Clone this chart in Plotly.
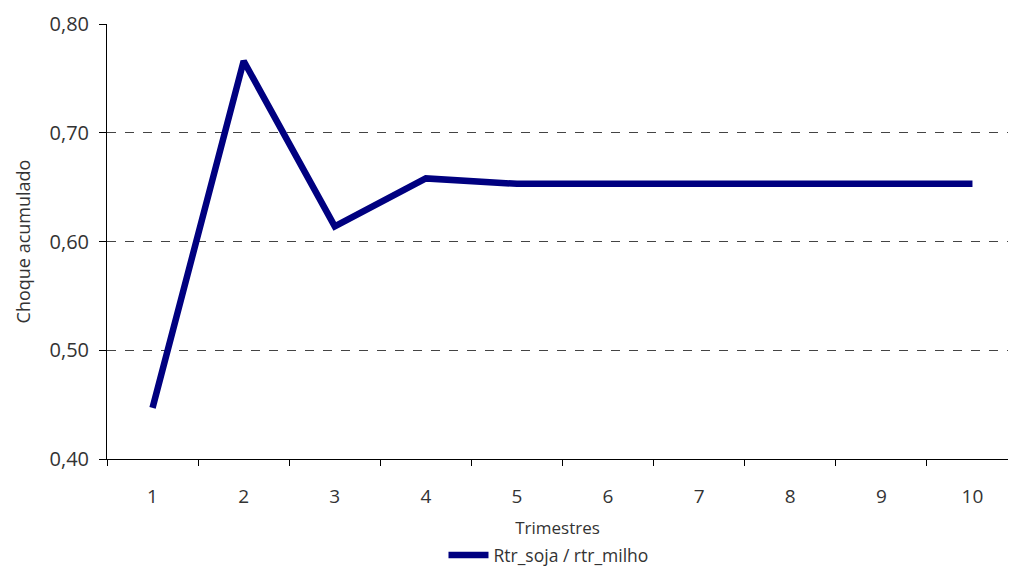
import plotly.graph_objects as go

# Accumulated shock response per quarter
trimestres = ["1", "2", "3", "4", "5", "6", "7", "8", "9", "10"]
choque = [0.447, 0.766, 0.614, 0.658, 0.653, 0.653, 0.653, 0.654, 0.653, 0.653]
serie_nome = "Rtr_soja / rtr_milho"

FONT = "Open Sans, sans-serif"
TXT = "#333333"

fig = go.Figure(
    go.Scatter(
        x=trimestres,
        y=choque,
        mode="lines",
        name=serie_nome,
        line=dict(color="#000080", width=6.5),
        showlegend=True,
    )
)

fig.update_layout(
    width=1011,
    height=570,
    margin=dict(l=107, r=3, t=24, b=111, autoexpand=False),
    paper_bgcolor="white",
    plot_bgcolor="white",
    separators=",.",
    font=dict(family=FONT, size=20, color=TXT),
    showlegend=True,
    legend=dict(
        orientation="h",
        x=0.49,
        xanchor="center",
        y=-0.2207,
        yanchor="middle",
        font=dict(family=FONT, size=17.5, color=TXT),
        itemwidth=40,
        tracegroupgap=0,
    ),
)

fig.update_xaxes(
    type="category",
    range=[-0.5, 9.39],
    showline=True,
    linecolor="#000000",
    linewidth=1,
    ticks="outside",
    tickson="boundaries",
    ticklen=6,
    tickcolor="#000000",
    showgrid=False,
    ticklabelstandoff=20,
    tickfont=dict(family=FONT, size=19, color=TXT),
    title=dict(text="Trimestres", font=dict(family=FONT, size=17, color=TXT), standoff=14),
)

fig.update_yaxes(
    range=[0.40, 0.80],
    dtick=0.1,
    tick0=0.4,
    tickformat=".2f",
    showline=True,
    linecolor="#000000",
    linewidth=1,
    ticks="outside",
    ticklen=7,
    tickcolor="#000000",
    showgrid=True,
    gridcolor="#444444",
    griddash="dash",
    gridwidth=1,
    zeroline=False,
    ticklabelstandoff=6,
    tickfont=dict(family=FONT, size=20, color=TXT),
    title=dict(text="Choque acumulado", font=dict(family=FONT, size=18, color=TXT), standoff=14),
)

fig.write_html("out.html")
